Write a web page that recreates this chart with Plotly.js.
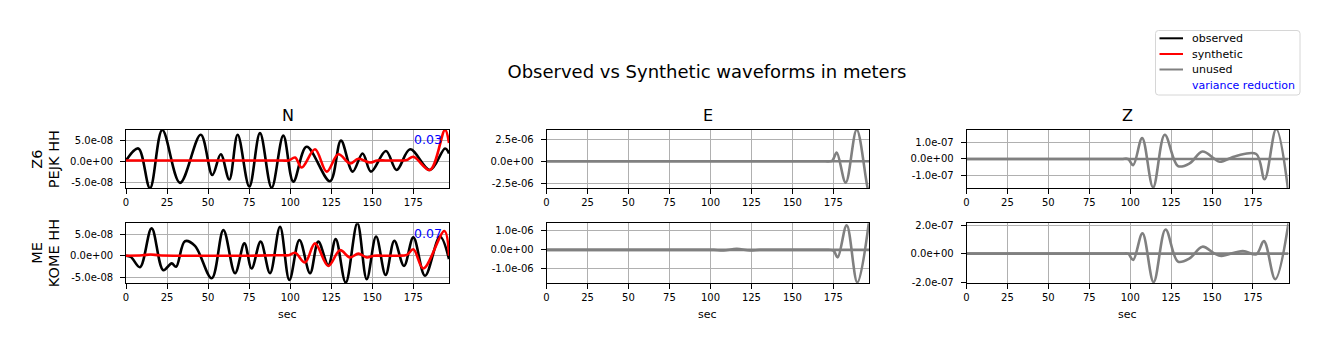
<!DOCTYPE html>
<html><head><meta charset="utf-8">
<script src="https://cdn.plot.ly/plotly-3.0.1.min.js"></script>
<style>html,body{margin:0;padding:0;background:#fff}#chart{width:1329px;height:351px}</style>
</head><body><div id="chart"></div>
<script>
// ---------- data (seconds, meters) ----------
const stationLine1 = ["Z6", "ME"];
const stationLine2 = ["PEJK HH", "KOME HH"];
const components = ["N", "E", "Z"];
const varianceReduction = ["0.03", "0.07"];
const legendLabels = ["observed", "synthetic", "unused", "variance reduction"];
const xTicks = [0, 25, 50, 75, 100, 125, 150, 175];

// PEJK N (used)
const pejkN_obs_t = [0, 7.5, 14.6, 22.1, 32.9, 45.5, 52.6, 57.7, 62.9, 68.0, 75.1, 81.6, 88.7, 95.8, 101.9, 110.0, 124.2, 130.9, 138.0, 144.1, 149.2, 158.3, 164.8, 173.0, 185.1, 194.3, 196.7];
const pejkN_obs_v = [0.2e-8, 3.1e-8, -6.5e-8, 7.55e-8, -5.2e-8, 6.4e-8, -3.3e-8, 1.7e-8, -4.4e-8, 6.4e-8, -6.1e-8, 6.8e-8, -6.4e-8, 6.2e-8, -4.9e-8, 3.5e-8, -4.8e-8, 5.0e-8, -2.5e-8, 1.9e-8, -2.5e-8, 2.5e-8, -2.1e-8, 2.9e-8, -2.1e-8, 3.1e-8, 1.9e-8];
const pejkN_syn_t = [0, 25, 50, 75, 95, 99, 103, 107, 115.1, 122.2, 129.3, 136.4, 141.5, 148.6, 153, 158, 163, 168, 171, 175, 185.1, 194.3, 196.7];
const pejkN_syn_v = [0.2e-8, 0.2e-8, 0.2e-8, 0.2e-8, 0.2e-8, 0.2e-8, 0.9e-8, -1.5e-8, 2.9e-8, -2.5e-8, 1.7e-8, -0.5e-8, 0.6e-8, -0.3e-8, 0.2e-8, 0.2e-8, 0.2e-8, 0.2e-8, 0.3e-8, 1.1e-8, -2.1e-8, 7.6e-8, 4.4e-8];

// KOME N (used)
const komeN_obs_t = [0, 3, 8.5, 15.6, 22.7, 27.8, 30.5, 35.9, 42.0, 52.2, 59.3, 66.4, 72.1, 76.5, 82.0, 87.7, 93.8, 99.5, 105.6, 112.1, 117.1, 123.2, 127.7, 133.8, 140.9, 146.6, 152.3, 158.1, 163.4, 169.3, 175.0, 182.1, 191.2, 196.7];
const komeN_obs_v = [0, -0.3e-8, -2.7e-8, 6.4e-8, -3.4e-8, -1.8e-8, -2.6e-8, 3.4e-8, 2.3e-8, -5.3e-8, 6.0e-8, -4.1e-8, 2.9e-8, -3.0e-8, 3.3e-8, -4.1e-8, 6.8e-8, -5.7e-8, 3.7e-8, -4.1e-8, 3.3e-8, -2.2e-8, 3.9e-8, -6.3e-8, 7.6e-8, -5.5e-8, 4.5e-8, -4.5e-8, 3.5e-8, -2.4e-8, 4.3e-8, -4.7e-8, 4.5e-8, -0.8e-8];
const komeN_syn_t = [0, 10, 15, 20, 30, 45, 60, 75, 90, 96, 99, 103, 109, 115.1, 123.2, 130.3, 136.4, 141.5, 146.6, 151, 156, 161, 166, 171, 175, 181.1, 193.9, 196.7];
const komeN_syn_v = [0, 0.1e-8, 0.3e-8, 0.1e-8, 0, 0, 0, 0, 0.1e-8, 0.1e-8, 0.1e-8, 0.7e-8, -1.6e-8, 2.9e-8, -2.4e-8, 1.3e-8, -0.4e-8, 0.5e-8, -0.4e-8, 0, 0, 0, 0, 0.2e-8, 1.5e-8, -3.0e-8, 5.8e-8, 0];

// PEJK E (unused)
const pejkE_a_t = [0, 25, 50, 75, 100, 125, 150, 165, 170, 173, 174.5, 177, 182.5, 189.2, 195.9, 196.7];
const pejkE_a_v = [0, 0, 0, 0, 0, 0, 0, 0, 0, 0, 0.1e-6, 0.97e-6, -2.39e-6, 3.55e-6, -3.0e-6, -3.3e-6];
const pejkE_b_t = [0, 50, 100, 150, 196.7];
const pejkE_b_v = [0, 0, 0, 0, 0];

// KOME E (unused)
const komeE_a_t = [0, 25, 50, 75, 100, 125, 150, 165, 170, 173, 175.2, 177.6, 183.1, 189.6, 196.7];
const komeE_a_v = [0, 0, 0, 0, 0, 0, 0, 0, 0, 0, -0.05e-6, -0.39e-6, 1.29e-6, -1.71e-6, 1.5e-6];
const komeE_b_t = [0, 25, 50, 75, 95, 102, 108, 116, 124, 130, 140, 160, 180, 196.7];
const komeE_b_v = [0, 0, 0, 0, 0, 0, -0.03e-6, 0.06e-6, -0.03e-6, 0, 0, 0, 0, 0];

// PEJK Z (unused)
const pejkZ_a_t = [0, 25, 50, 75, 90, 95, 98.7, 101.8, 107.3, 114.0, 121.1, 129.2, 136.3, 144.1, 151.6, 154.7, 164.8, 177.0, 182.1, 189.2, 196.7];
const pejkZ_a_v = [0, 0, 0, 0, 0, 0, 0, -0.38e-7, 1.29e-7, -1.75e-7, 1.5e-7, -0.44e-7, -0.27e-7, 0.46e-7, 0, -0.17e-7, 0.19e-7, 0.31e-7, -1.25e-7, 1.85e-7, -2.1e-7];
const pejkZ_b_t = [0, 50, 100, 150, 196.7];
const pejkZ_b_v = [0, 0, 0, 0, 0];

// KOME Z (unused)
const komeZ_a_t = [0, 25, 50, 75, 90, 95, 98.7, 101.8, 107.5, 114.3, 121.6, 129.2, 136.3, 144.1, 151.6, 155.6, 168.8, 177.0, 181.7, 188.6, 196.7];
const komeZ_a_v = [0, 0, 0, 0, 0, 0, 0, -0.44e-7, 1.42e-7, -2.0e-7, 1.7e-7, -0.56e-7, -0.33e-7, 0.49e-7, 0, -0.16e-7, 0.19e-7, -0.05e-7, 0.88e-7, -1.79e-7, 2.15e-7];
const komeZ_b_t = [0, 50, 100, 150, 196.7];
const komeZ_b_v = [0, 0, 0, 0, 0];

// y tick labels per panel (row-major: PEJK N,E,Z ; KOME N,E,Z)
const yTickVals = [[-5e-8, 0, 5e-8], [-2.5e-6, 0, 2.5e-6], [-1e-7, 0, 1e-7], [-5e-8, 0, 5e-8], [-1e-6, 0, 1e-6], [-2e-7, 0, 2e-7]];
const yTickText = [["-5.0e-08", "0.0e+00", "5.0e-08"], ["-2.5e-06", "0.0e+00", "2.5e-06"], ["-1.0e-07", "0.0e+00", "1.0e-07"], ["-5.0e-08", "0.0e+00", "5.0e-08"], ["-1.0e-06", "0.0e+00", "1.0e-06"], ["-2.0e-07", "0.0e+00", "2.0e-07"]];

// ---------- layout helpers ----------
const W = 1329, H = 351;
const fx = p => p / W, fy = p => 1 - p / H;
const FONT = "DejaVu Sans";
const colPx = [[126, 449], [546.5, 869], [966.5, 1288.5]];
const rowPx = [[130, 188.3], [223.3, 283]];
const yRanges = [[-6.52e-8, 7.56e-8], [-3.03e-6, 3.51e-6], [-1.81e-7, 1.79e-7], [-6.4e-8, 7.6e-8], [-1.74e-6, 1.40e-6], [-2.06e-7, 2.13e-7]];
const xRange = [0, 196.7];

const BLACK = "#000000", RED = "#ff0000", GRAY = "#808080", BLUE = "#0000ff";
const legendColors = [BLACK, RED, GRAY, null];

function tr(x, y, color, k, name) {
  const id = k === 0 ? "" : String(k + 1);
  return {
    type: "scatter", mode: "lines", x: x, y: y,
    xaxis: "x" + id, yaxis: "y" + id,
    line: {color: color, width: 2.6, shape: "spline", smoothing: 1},
    name: name, showlegend: false, hoverinfo: "skip"
  };
}

const data = [
  tr(pejkN_obs_t, pejkN_obs_v, BLACK, 0, "observed"),
  tr(pejkN_syn_t, pejkN_syn_v, RED, 0, "synthetic"),
  tr(pejkE_a_t, pejkE_a_v, GRAY, 1, "unused"),
  tr(pejkE_b_t, pejkE_b_v, GRAY, 1, "unused"),
  tr(pejkZ_a_t, pejkZ_a_v, GRAY, 2, "unused"),
  tr(pejkZ_b_t, pejkZ_b_v, GRAY, 2, "unused"),
  tr(komeN_obs_t, komeN_obs_v, BLACK, 3, "observed"),
  tr(komeN_syn_t, komeN_syn_v, RED, 3, "synthetic"),
  tr(komeE_a_t, komeE_a_v, GRAY, 4, "unused"),
  tr(komeE_b_t, komeE_b_v, GRAY, 4, "unused"),
  tr(komeZ_a_t, komeZ_a_v, GRAY, 5, "unused"),
  tr(komeZ_b_t, komeZ_b_v, GRAY, 5, "unused")
];

const layout = {
  width: W, height: H,
  margin: {l: 0, r: 0, t: 0, b: 0},
  paper_bgcolor: "#ffffff", plot_bgcolor: "#ffffff",
  font: {family: FONT, color: "#000000", size: 10},
  title: {text: "Observed vs Synthetic waveforms in meters", x: fx(707), y: fy(72), xref: "paper", yref: "paper",
          xanchor: "center", yanchor: "middle", font: {family: FONT, size: 18, color: "#000"}},
  showlegend: false,
  annotations: [],
  shapes: [],
  hovermode: false
};

for (let k = 0; k < 6; k++) {
  const r = Math.floor(k / 3), c = k % 3;
  const id = k === 0 ? "" : String(k + 1);
  const common = {
    showline: true, mirror: true, linecolor: "#000", linewidth: 1,
    ticks: "outside", ticklen: 4.8, tickwidth: 1, tickcolor: "#000",
    showgrid: true, gridcolor: "#b0b0b0", gridwidth: 1, zeroline: false,
    tickfont: {family: FONT, size: 10, color: "#000"}, fixedrange: true
  };
  layout["xaxis" + id] = Object.assign({
    domain: [fx(colPx[c][0]), fx(colPx[c][1])], anchor: "y" + id, range: xRange,
    tickvals: xTicks, ticktext: xTicks.map(String)
  }, common);
  layout["yaxis" + id] = Object.assign({
    domain: [fy(rowPx[r][1]), fy(rowPx[r][0])], anchor: "x" + id, range: yRanges[k],
    tickvals: yTickVals[k], ticktext: yTickText[k], ticklabelstandoff: 5
  }, common);
}

// column titles and x labels
components.forEach((t, c) => {
  const xc = fx((colPx[c][0] + colPx[c][1]) / 2);
  layout.annotations.push({text: t, xref: "paper", yref: "paper", x: xc, y: fy(116),
    xanchor: "center", yanchor: "middle", showarrow: false, font: {family: FONT, size: 16, color: "#000"}});
  layout.annotations.push({text: "sec", xref: "paper", yref: "paper", x: xc, y: fy(314),
    xanchor: "center", yanchor: "middle", showarrow: false, font: {family: FONT, size: 11, color: "#000"}});
});
// row labels (two lines, rotated) and variance reduction
for (let r = 0; r < 2; r++) {
  const yc = (rowPx[r][0] + rowPx[r][1]) / 2;
  layout.annotations.push({text: stationLine1[r], xref: "paper", yref: "paper", x: fx(37.5), y: fy(yc),
    xanchor: "center", yanchor: "middle", textangle: -90, showarrow: false, font: {family: FONT, size: 14.5, color: "#000"}});
  layout.annotations.push({text: stationLine2[r], xref: "paper", yref: "paper", x: fx(54), y: fy(yc),
    xanchor: "center", yanchor: "middle", textangle: -90, showarrow: false, font: {family: FONT, size: 14.5, color: "#000"}});
  layout.annotations.push({text: varianceReduction[r], xref: "paper", yref: "paper", x: fx(444), y: fy(r === 0 ? 139 : 233),
    xanchor: "right", yanchor: "middle", showarrow: false, font: {family: FONT, size: 12.5, color: BLUE}});
}

// legend box (drawn to match the reference legend)
const LX0 = 1155.5, LX1 = 1300, LY0 = 30.5, LY1 = 95, RAD = 3;
layout.shapes.push({
  type: "path", xref: "paper", yref: "paper", layer: "above",
  path: `M ${fx(LX0 + RAD)} ${fy(LY0)} L ${fx(LX1 - RAD)} ${fy(LY0)} Q ${fx(LX1)} ${fy(LY0)} ${fx(LX1)} ${fy(LY0 + RAD)} ` +
        `L ${fx(LX1)} ${fy(LY1 - RAD)} Q ${fx(LX1)} ${fy(LY1)} ${fx(LX1 - RAD)} ${fy(LY1)} ` +
        `L ${fx(LX0 + RAD)} ${fy(LY1)} Q ${fx(LX0)} ${fy(LY1)} ${fx(LX0)} ${fy(LY1 - RAD)} ` +
        `L ${fx(LX0)} ${fy(LY0 + RAD)} Q ${fx(LX0)} ${fy(LY0)} ${fx(LX0 + RAD)} ${fy(LY0)} Z`,
  line: {color: "#d6d6d6", width: 1}, fillcolor: "#ffffff"
});
const legendRowY = [38.3, 54, 69.5, 85.3];
legendLabels.forEach((lab, i) => {
  if (legendColors[i]) {
    layout.shapes.push({type: "line", xref: "paper", yref: "paper", layer: "above",
      x0: fx(1159.5), x1: fx(1183), y0: fy(legendRowY[i]), y1: fy(legendRowY[i]),
      line: {color: legendColors[i], width: 2}});
  }
  layout.annotations.push({text: lab, xref: "paper", yref: "paper", x: fx(1190), y: fy(legendRowY[i]),
    xanchor: "left", yanchor: "middle", showarrow: false,
    font: {family: FONT, size: 11, color: i === 3 ? BLUE : "#000"}});
});

Plotly.newPlot("chart", data, layout, {staticPlot: true, displayModeBar: false});
</script></body></html>
